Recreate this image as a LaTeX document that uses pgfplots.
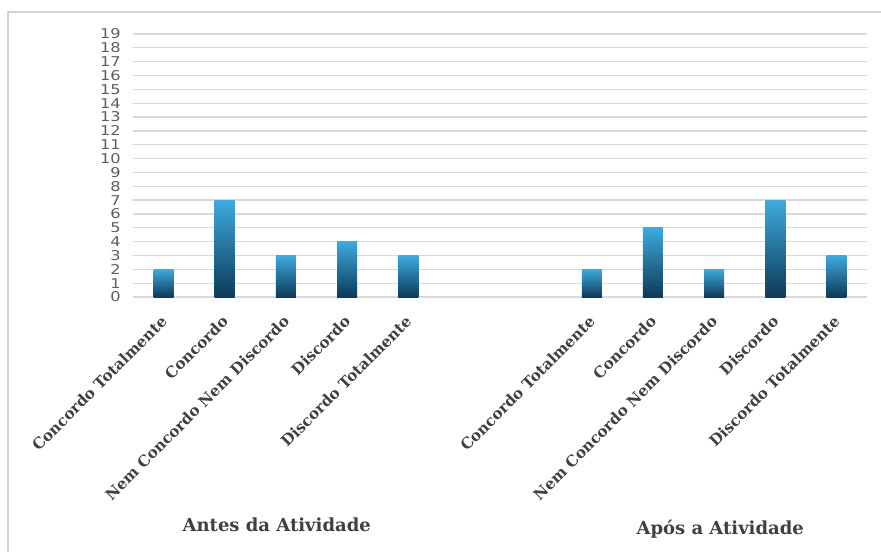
\documentclass[border=0pt]{standalone}
\usepackage{fontspec}
\setmainfont{DejaVu Serif}
\newfontfamily\tickfont{DejaVu Sans}
\usepackage{pgfplots}
\pgfplotsset{compat=1.18}
\definecolor{bartop}{RGB}{62,170,222}
\definecolor{barbot}{RGB}{12,58,88}
\definecolor{gridc}{RGB}{217,217,217}
\definecolor{labc}{RGB}{64,64,64}
\definecolor{tickc}{RGB}{95,95,95}
\definecolor{framec}{RGB}{210,210,210}
% each bar its own plot so that every bar gets the full gradient
\pgfplotsset{gbar/.style={ybar, bar width=20pt, bar shift=0pt, draw=none, top color=bartop, bottom color=barbot}}
\begin{document}
\begin{tikzpicture}[x=1pt,y=1pt]
\useasboundingbox (-133,-255) rectangle (748,297);
\fill[white] (-133,-255) rectangle (748,297);
\draw[framec, line width=2pt] (-125,-255) -- (-125,284.5) -- (748,284.5);
\begin{axis}[
    at={(0,0)}, anchor=south west,
    scale only axis,
    width=734pt, height=263pt,
    xmin=-0.5, xmax=11.5,
    ymin=0, ymax=19,
    axis line style={draw=none},
    major tick length=0pt,
    ytick={0,...,19},
    ymajorgrids,
    major grid style={gridc, line width=1.3pt},
    /pgf/number format/assume math mode=true,
    xtick={0,1,2,3,4,7,8,9,10,11},
    xticklabels={Concordo Totalmente, Concordo, Nem Concordo Nem Discordo, Discordo, Discordo Totalmente,
                 Concordo Totalmente, Concordo, Nem Concordo Nem Discordo, Discordo, Discordo Totalmente},
    xticklabel style={rotate=45, anchor=north east, font=\bfseries\fontsize{15.2}{17}\selectfont, text=labc, inner sep=0pt, xshift=-15pt, yshift=-9.5pt},
    yticklabel style={font=\tickfont\fontsize{13.5}{13.5}\selectfont, text=tickc, inner sep=0pt, xscale=1.2, xshift=-10pt},
    clip=false,
]
% Antes da Atividade
\addplot[gbar] coordinates {(0,2)};
\addplot[gbar] coordinates {(1,7)};
\addplot[gbar] coordinates {(2,3)};
\addplot[gbar] coordinates {(3,4)};
\addplot[gbar] coordinates {(4,3)};
% Apos a Atividade
\addplot[gbar] coordinates {(7,2)};
\addplot[gbar] coordinates {(8,5)};
\addplot[gbar] coordinates {(9,2)};
\addplot[gbar] coordinates {(10,7)};
\addplot[gbar] coordinates {(11,3)};
\node[font=\bfseries\fontsize{18}{20}\selectfont, text=labc, anchor=base] at (axis cs:1.85,0) [yshift=-234pt] {Antes da Atividade};
\node[font=\bfseries\fontsize{18}{20}\selectfont, text=labc, anchor=base] at (axis cs:9.1,0) [yshift=-237pt] {Após a Atividade};
\end{axis}
\end{tikzpicture}
\end{document}
